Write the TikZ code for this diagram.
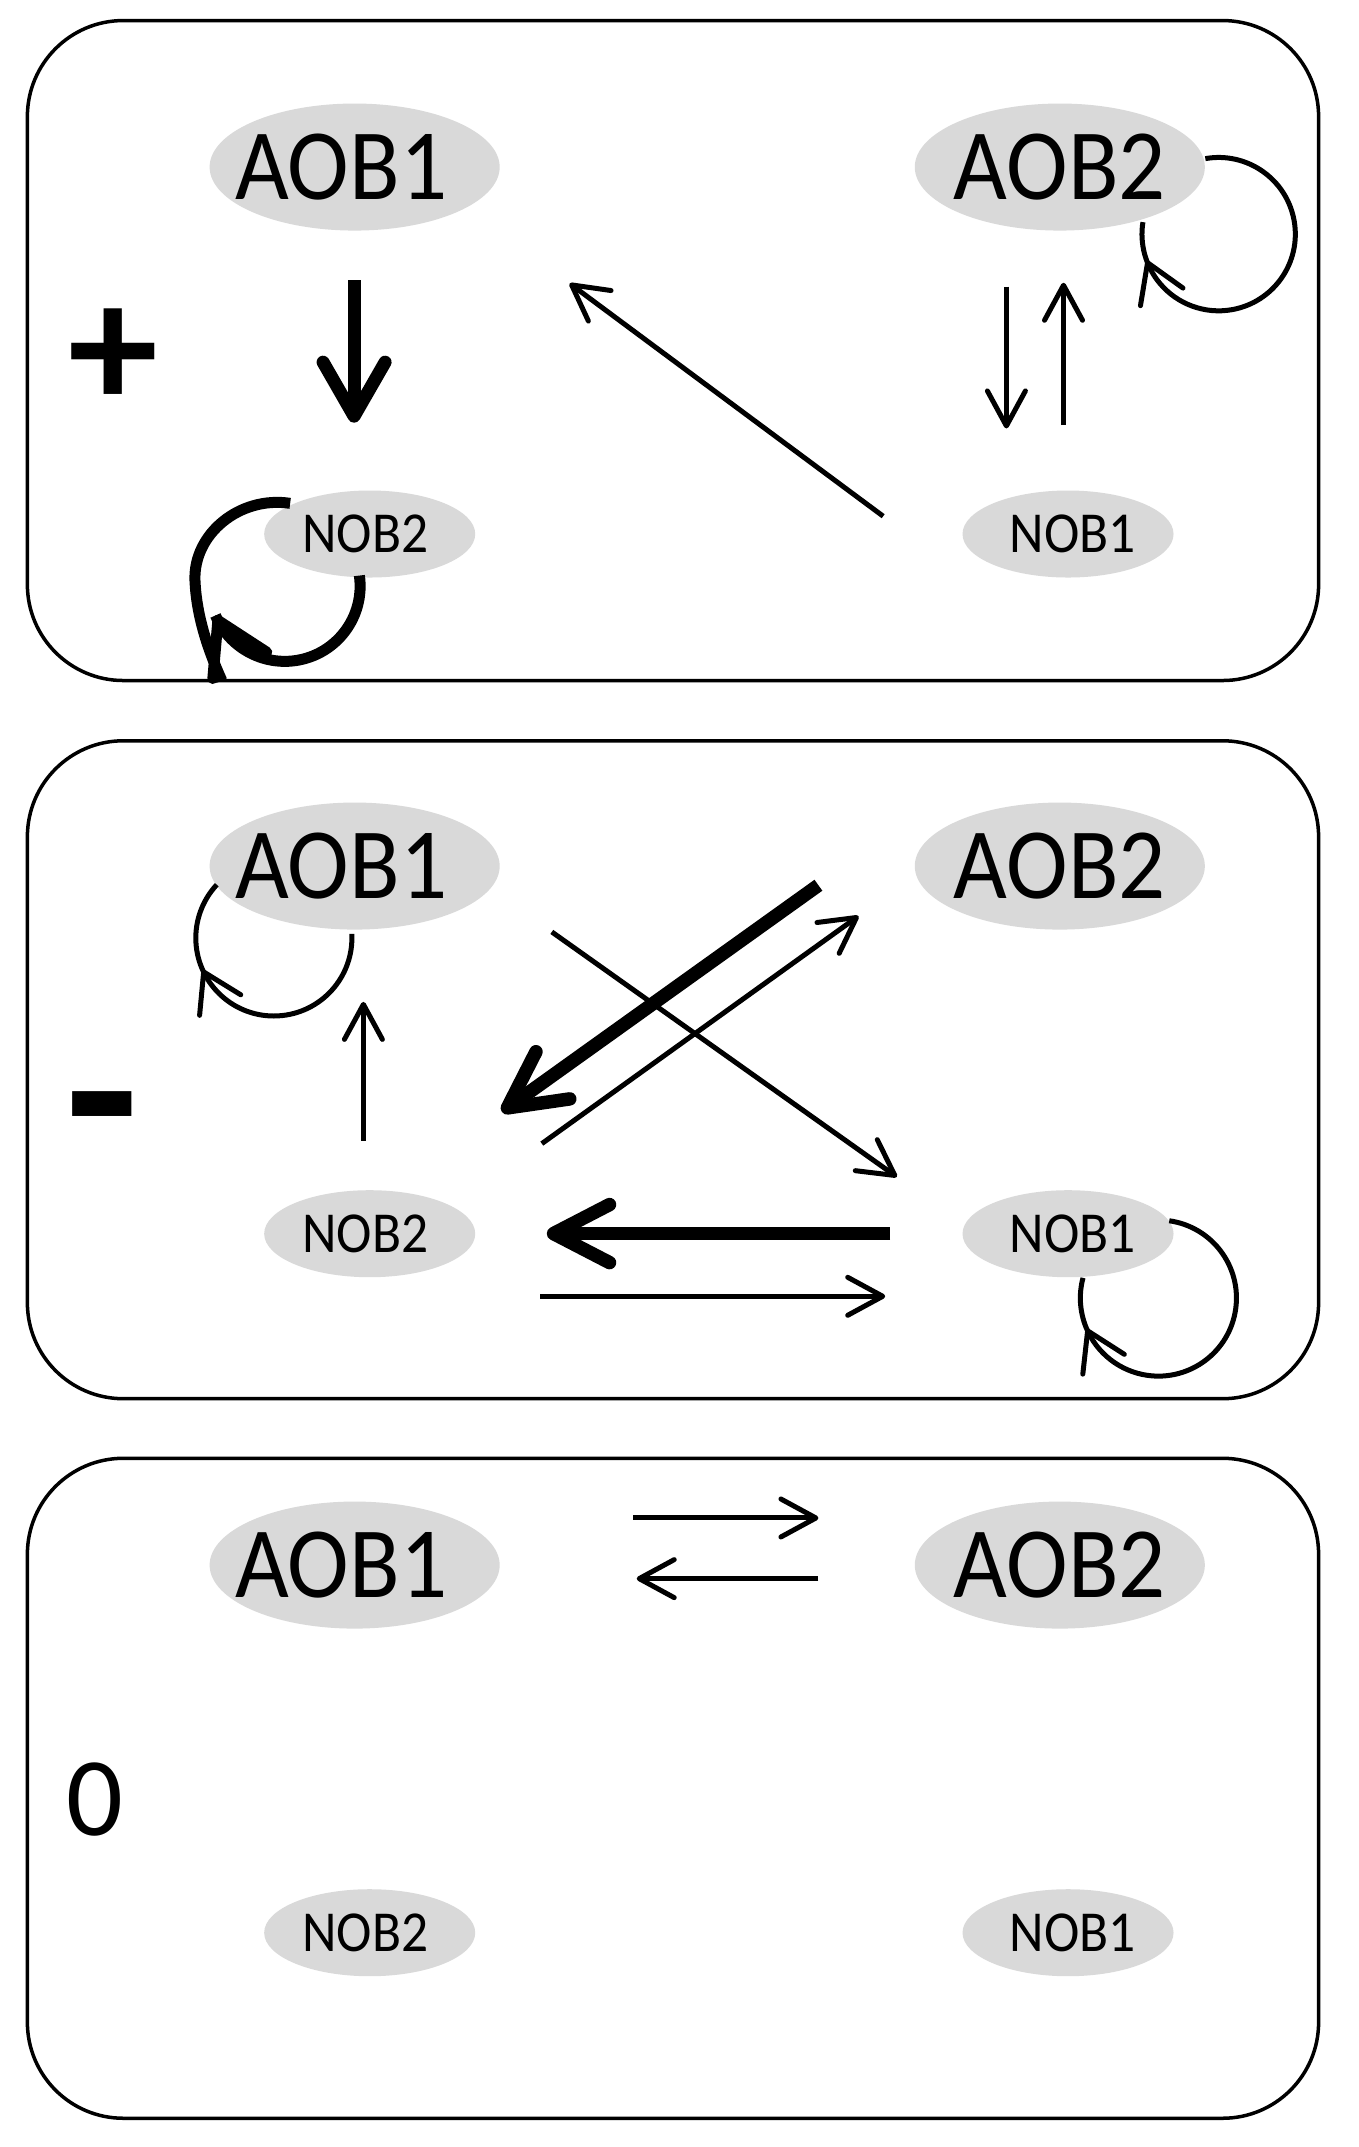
\documentclass[tikz,border=0pt]{standalone}
\usepackage{fontspec}
\setmainfont{Carlito}
\newfontfamily\condfont[FakeStretch=0.92]{Carlito}
\usetikzlibrary{arrows.meta,shapes.geometric}
\definecolor{nodegray}{RGB}{217,217,217}
\begin{document}
\begin{tikzpicture}[x=1.369pt,y=-1.369pt,
  panel/.style={draw=black, line width=3.5pt, rounded corners=96pt},
  aob/.style={ellipse, fill=nodegray, minimum width=290pt, minimum height=127pt, inner sep=-30pt, font=\condfont\fontsize{101}{101}\selectfont},
  nob/.style={ellipse, fill=nodegray, minimum width=211pt, minimum height=87pt, inner sep=-20pt, font=\condfont\fontsize{58}{58}\selectfont},
  signtext/.style={inner sep=0pt},
  thinarrow/.style={line width=5pt, -{Straight Barb[length=35pt,width=38pt,round]}},
  thinline/.style={line width=5pt},
  loophead/.style={line width=5pt, -{Straight Barb[length=37pt,width=46pt,round]}},
  thickarrow/.style={line width=13pt, -{Straight Barb[length=54pt,width=62pt,round]}},
  thickline/.style={line width=11pt},
  thickhead/.style={line width=11pt, -{Straight Barb[length=50pt,width=60pt,round]}},
  heavyarrow/.style={line width=13.5pt, -{Straight Barb[length=56pt,width=58pt,round]}}
]
\useasboundingbox[fill=white] (0,0) rectangle (992,1568);

% ---------------- Panel 1 (+) ----------------
\draw[panel] (20,15) rectangle (963,497);
\node[aob] (p1aob1) at (259,122) {AOB1\kern27pt};
\node[aob] (p1aob2) at (774,122) {AOB2};
\node[nob] (p1nob2) at (270,390) {NOB2\kern9pt};
\node[nob] (p1nob1) at (780,390) {\kern9pt NOB1};
\node[signtext, font=\bfseries\fontsize{180}{180}\selectfont] (p1sign) at (83,262) {+};

\coordinate (p1s1) at (258.6,204.5);
\coordinate (p1e1) at (258.6,308.7);
\draw[thickarrow] (p1s1) -- (p1e1);

\coordinate (p1s2) at (645,377);
\coordinate (p1e2) at (416,207);
\draw[thinarrow] (p1s2) -- (p1e2);

\coordinate (p1s3) at (735,209.4);
\coordinate (p1e3) at (735,312.9);
\draw[thinarrow] (p1s3) -- (p1e3);

\coordinate (p1s4) at (776.7,310.4);
\coordinate (p1e4) at (776.7,206.5);
\draw[thinarrow] (p1s4) -- (p1e4);

% AOB2 self loop
\coordinate (p1c2) at (890,171);
\draw[thinline] ([shift={(-100:56)}]p1c2) arc[start angle=-100, end angle=189, radius=56];
\draw[loophead] ([shift={(155:56)}]p1c2) -- ([shift={(160:56)}]p1c2);

% NOB2 self loop (thick)
\coordinate (p1c1) at (208,428);
\draw[thickline] ([shift={(-8:55)}]p1c1) arc[start angle=-8, end angle=157, radius=55];
\draw[thickhead] ([shift={(151:55)}]p1c1) -- ([shift={(157:55)}]p1c1);
\coordinate (p1t1) at (211.9,367.6);
\coordinate (p1t2) at (162,497);
\draw[thickline] (p1t1) .. controls (175,362) and (141,390) .. (142.4,424) .. controls (143.5,450) and (152,475) .. (p1t2);

% ---------------- Panel 2 (-) ----------------
\draw[panel] (20,541) rectangle (963,1021.5);
\node[aob] (p2aob1) at (259,632.5) {AOB1\kern27pt};
\node[aob] (p2aob2) at (774,632.5) {AOB2};
\node[nob] (p2nob2) at (270,901) {NOB2\kern9pt};
\node[nob] (p2nob1) at (780,901) {\kern9pt NOB1};
\node[signtext, font=\bfseries\fontsize{240}{240}\selectfont] (p2sign) at (74.5,827) {-};

\coordinate (p2s1) at (265.4,833);
\coordinate (p2e1) at (265.4,731.7);
\draw[thinarrow] (p2s1) -- (p2e1);

\coordinate (p2s2) at (597.7,646.5);
\coordinate (p2e2) at (366.5,812);
\draw[heavyarrow] (p2s2) -- (p2e2);

\coordinate (p2s3) at (395.7,835.2);
\coordinate (p2e3) at (627,669);
\draw[thinarrow] (p2s3) -- (p2e3);

\coordinate (p2s4) at (403,680.6);
\coordinate (p2e4) at (655,859.5);
\draw[thinarrow] (p2s4) -- (p2e4);

\coordinate (p2s5) at (650.1,900.9);
\coordinate (p2e5) at (399.3,900.9);
\draw[heavyarrow] (p2s5) -- (p2e5);

\coordinate (p2s6) at (394.4,946.7);
\coordinate (p2e6) at (646.5,946.7);
\draw[thinarrow] (p2s6) -- (p2e6);

% AOB1 self loop
\coordinate (p2c1) at (200,685);
\draw[thinline] ([shift={(-3:57)}]p2c1) arc[start angle=-3, end angle=223, radius=57];
\draw[loophead] ([shift={(151:57)}]p2c1) -- ([shift={(156:57)}]p2c1);

% NOB1 self loop
\coordinate (p2c2) at (846,948);
\draw[thinline] ([shift={(-82:57)}]p2c2) arc[start angle=-82, end angle=195, radius=57];
\draw[loophead] ([shift={(152:57)}]p2c2) -- ([shift={(157:57)}]p2c2);

% ---------------- Panel 3 (0) ----------------
\draw[panel] (20,1065) rectangle (963,1547);
\node[aob] (p3aob1) at (259,1143) {AOB1\kern27pt};
\node[aob] (p3aob2) at (774,1143) {AOB2};
\node[nob] (p3nob2) at (270,1411.5) {NOB2\kern9pt};
\node[nob] (p3nob1) at (780,1411.5) {\kern9pt NOB1};
\node[signtext, font=\fontsize{112}{112}\selectfont] (p3sign) at (69,1314) {0};

\coordinate (p3s1) at (462.6,1108.6);
\coordinate (p3e1) at (597.7,1108.6);
\draw[thinarrow] (p3s1) -- (p3e1);

\coordinate (p3s2) at (597.7,1152.9);
\coordinate (p3e2) at (465,1152.9);
\draw[thinarrow] (p3s2) -- (p3e2);
\end{tikzpicture}
\end{document}
